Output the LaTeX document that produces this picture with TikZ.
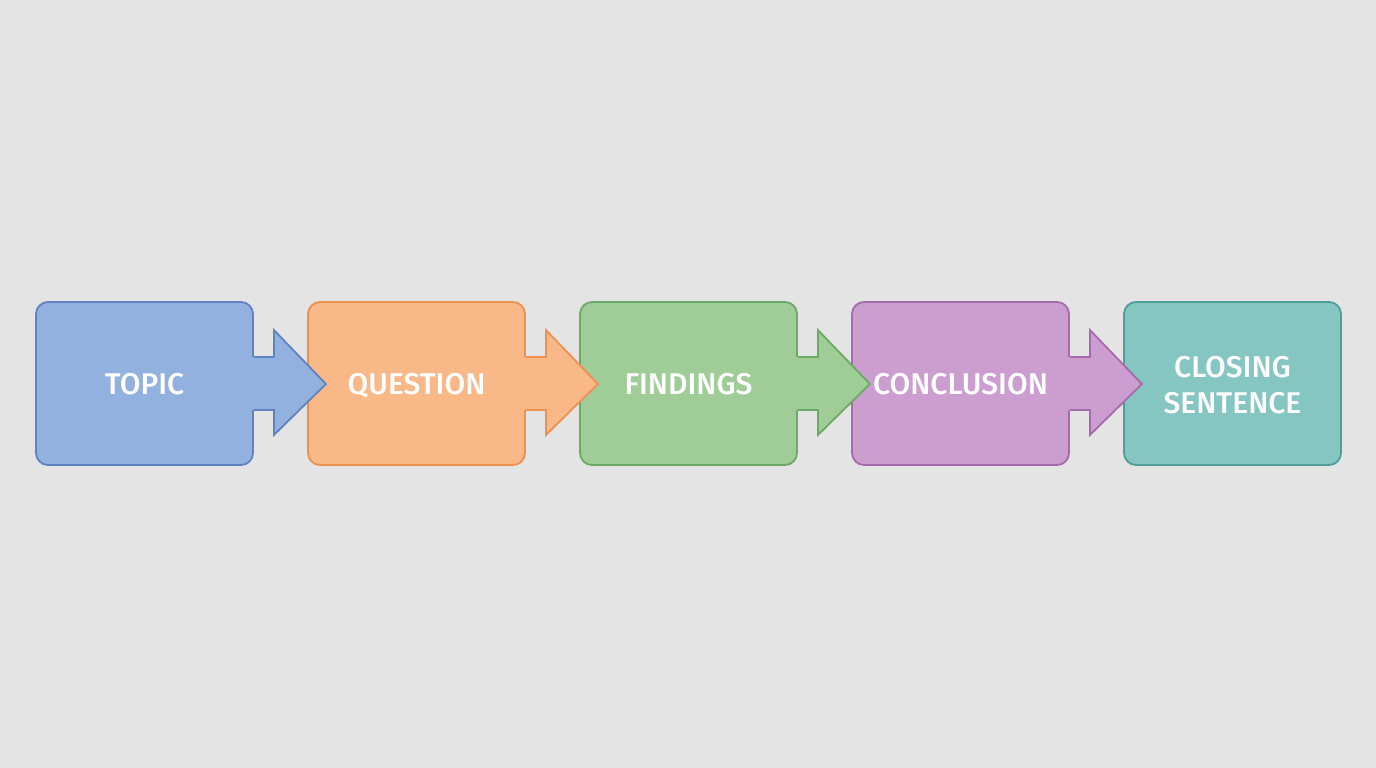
\documentclass[tikz,border=0pt]{standalone}
\usepackage{fontspec}
\setmainfont{Fira Sans Medium}
\definecolor{bg}{HTML}{E4E4E4}
\definecolor{fblue}{HTML}{93B1DE}\definecolor{dblue}{HTML}{5F82C0}
\definecolor{forange}{HTML}{F8B888}\definecolor{dorange}{HTML}{EE9050}
\definecolor{fgreen}{HTML}{A0CC98}\definecolor{dgreen}{HTML}{6AAA64}
\definecolor{fpurple}{HTML}{CC9ED0}\definecolor{dpurple}{HTML}{A66AAE}
\definecolor{fteal}{HTML}{85C6C2}\definecolor{dteal}{HTML}{4E9E9A}
\tikzset{
  stepbox/.style={rounded corners=12pt, line width=1.8pt, minimum width=217pt, minimum height=163pt, inner sep=0pt},
  steptext/.style={text=white, font=\fontsize{30}{36}\selectfont, align=center, inner sep=0pt, anchor=base},
  arrowline/.style={line width=1.8pt, line join=miter}
}
\begin{document}
\begin{tikzpicture}[x=1pt,y=-1pt]
\fill[bg] (0,0) rectangle (1376,768);
\useasboundingbox (0,0) rectangle (1376,768);
\foreach \i/\f/\d/\n in {0/fblue/dblue/b1,1/forange/dorange/b2,2/fgreen/dgreen/b3,3/fpurple/dpurple/b4,4/fteal/dteal/b5}{
  \node[stepbox, fill=\f, draw=\d] (\n) at ({144.5+272*\i},383.5) {};
}
\foreach \n/\f/\d in {b1/fblue/dblue,b2/forange/dorange,b3/fgreen/dgreen,b4/fpurple/dpurple}{
  \fill[\f] ([xshift=-3pt,yshift=-26.5pt]\n.east) -- ++(23pt,0) -- ++(0,-25pt) -- ++(52pt,51pt) -- ++(-52pt,54pt) -- ++(0,-27pt) -- ++(-23pt,0) -- cycle;
  \draw[arrowline, draw=\d] ([yshift=-26.5pt]\n.east) -- ++(20pt,0) -- ++(0,-25pt) -- ++(52pt,51pt) -- ++(-52pt,54pt) -- ++(0,-27pt) -- ++(-20pt,0);
}
\node[steptext] (t1) at ([yshift=-11pt]b1.center) {TOPIC};
\node[steptext] (t2) at ([yshift=-11pt]b2.center) {QUESTION};
\node[steptext] (t3) at ([yshift=-11pt]b3.center) {FINDINGS};
\node[steptext] (t4) at ([yshift=-11pt]b4.center) {CONCLUSION};
\node[steptext] (t5) at ([yshift=-30pt]b5.center) {CLOSING\\SENTENCE};
\end{tikzpicture}
\end{document}
